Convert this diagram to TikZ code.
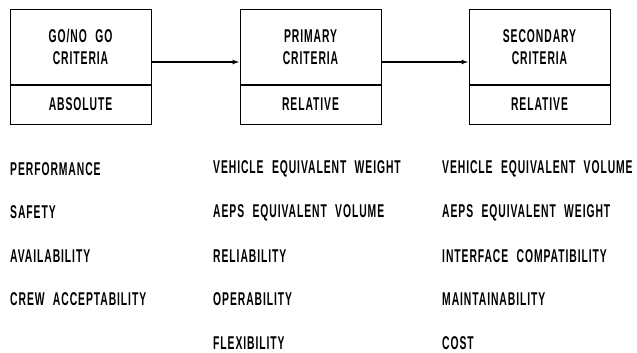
\documentclass[tikz,border=0pt]{standalone}
\usepackage{fontspec}
\usepackage{tikz}
\usetikzlibrary{arrows.meta, positioning}
\newfontfamily\lettering{Liberation Sans}[FakeStretch=0.56, LetterSpace=5, WordSpace=2.2]
\tikzset{
  head/.style={draw, line width=1pt, minimum width=141pt, minimum height=74pt,
    align=center, inner sep=0pt, font=\lettering\bfseries\fontsize{18.5}{22}\selectfont},
  foot/.style={draw, line width=1pt, minimum width=141pt, minimum height=39pt,
    inner sep=0pt, font=\lettering\bfseries\fontsize{18.5}{22}\selectfont},
  item/.style={anchor=west, inner sep=0pt, font=\lettering\bfseries\fontsize{18.5}{22}\selectfont}
}

\begin{document}
\begin{tikzpicture}[>={Latex[length=7pt,width=5pt]}, x=1pt, y=-1pt]

\useasboundingbox (0,0) rectangle (637,353);

\node[head] (go) at (80.5,47) {GO/NO GO\\CRITERIA};
\node[foot, below=0pt of go] (abs) {ABSOLUTE};

\node[head, right=88pt of go] (prim) {PRIMARY\\CRITERIA};
\node[foot, below=0pt of prim] (rel1) {RELATIVE};

\node[head, right=87pt of prim] (sec) {SECONDARY\\CRITERIA};
\node[foot, below=0pt of sec] (rel2) {RELATIVE};

\draw[->, line width=1.3pt] ([yshift=-15pt]go.east) -- ([yshift=-15pt]prim.west);
\draw[->, line width=1.3pt] ([yshift=-15pt]prim.east) -- ([yshift=-15pt]sec.west);

\foreach \txt [count=\i] in {PERFORMANCE, SAFETY, AVAILABILITY, CREW ACCEPTABILITY}
  \node[item] (gonogo\i) at (10,125.5+43.5*\i) {\txt};

\foreach \txt [count=\i] in {VEHICLE EQUIVALENT WEIGHT, AEPS EQUIVALENT VOLUME,
    RELIABILITY, OPERABILITY, FLEXIBILITY}
  \node[item] (primary\i) at (213,125.5+43.5*\i) {\txt};

\foreach \txt [count=\i] in {VEHICLE EQUIVALENT VOLUME, AEPS EQUIVALENT WEIGHT,
    INTERFACE COMPATIBILITY, MAINTAINABILITY, COST}
  \node[item] (secondary\i) at (442,125.5+43.5*\i) {\txt};

\end{tikzpicture}
\end{document}
